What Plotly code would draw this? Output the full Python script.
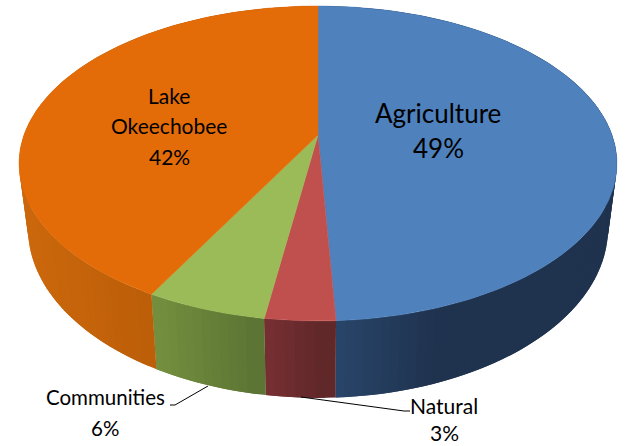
import math
import plotly.graph_objects as go

# Data
categories = ["Agriculture", "Natural", "Communities", "Lake Okeechobee"]
shares = [49.2, 3.2, 5.5, 42.1]
percent_labels = ["49%", "3%", "6%", "42%"]
label_lines = [["Agriculture"], ["Natural"], ["Communities"], ["Lake", "Okeechobee"]]

# Styles
top_colors = ["#4f81bd", "#c0504d", "#9bbb59", "#e36c09"]
side_colors = [
    ("#1f324e", "#2b4a70"),   # colour at right end, at left end
    ("#5f2729", "#7b3034"),
    ("#5c7434", "#76923f"),
    ("#a95305", "#cc680c"),
]

# Projected pie geometry (screen pixels on hidden axes)
CX, CY = 318.0, 135.0
K, A, B, D, SHRINK = 0.181, 152.3, 294.0, 63.0, 0.03


def project(theta, depth=0.0):
    s, c = math.sin(theta), math.cos(theta)
    w = 1 + K * c
    return CX + (1 - SHRINK * depth) * B * s / w, CY - A * c / w + depth * D / w


def hexrgb(h):
    return [int(h[i:i + 2], 16) for i in (1, 3, 5)]


def mix(c0, c1, t):
    a, b = hexrgb(c0), hexrgb(c1)
    return "rgb(%d,%d,%d)" % tuple(round(a[i] + (b[i] - a[i]) * t) for i in range(3))


fig = go.Figure()
total = sum(shares)
spans, start = [], 0.0
for v in shares:
    spans.append((start, start + v / total * 2 * math.pi))
    start = spans[-1][1]

# Side walls, painted so that each band overlaps its neighbour and leaves no seam
STEP = math.radians(1.5)
bands = []
for i, (a0, a1) in enumerate(spans):
    n = max(4, int((a1 - a0) / STEP))
    xs = [project(a0 + (a1 - a0) * j / n)[0] for j in range(n + 1)]
    lo, hi = min(xs), max(xs)
    for j in range(n):
        t0 = a0 + (a1 - a0) * j / n
        t1 = a0 + (a1 - a0) * (j + 1) / n
        tm = (t0 + t1) / 2
        x = project(tm)[0]
        if i == 0:
            f = max(0.0, 1 - (x - lo) / 130)
        else:
            f = (hi - x) / max(hi - lo, 1)
        bands.append((i, j, min(a1, t1 + (t1 - t0)), t0, mix(side_colors[i][0], side_colors[i][1], f)))

bands.sort(key=lambda b: (b[0], -b[1]))
for i, _, t1, t0, color in bands:
    ts = [t0, (t0 + t1) / 2, t1]
    p = [project(t) for t in ts] + [project(t, 1) for t in reversed(ts)] + [project(t0)]
    fig.add_trace(go.Scatter(x=[q[0] for q in p], y=[q[1] for q in p], mode="lines",
                             fill="toself", fillcolor=color,
                             line=dict(color=color, width=0), hoverinfo="skip"))

# Top faces
for i, (a0, a1) in enumerate(spans):
    n = max(8, int((a1 - a0) / math.radians(1)))
    pts = [(CX, CY)] + [project(a0 + (a1 - a0) * j / n) for j in range(n + 1)] + [(CX, CY)]
    fig.add_trace(go.Scatter(x=[q[0] for q in pts], y=[q[1] for q in pts], mode="lines",
                             fill="toself", fillcolor=top_colors[i],
                             line=dict(color=top_colors[i], width=0.5),
                             name=categories[i], hoverinfo="skip"))

# Leader lines
for lx, ly in [([208, 175, 170], [386, 405, 405]), ([301, 404, 410], [397, 411, 411])]:
    fig.add_trace(go.Scatter(x=lx, y=ly, mode="lines", line=dict(color="#000000", width=1),
                             hoverinfo="skip"))

# Labels: (index, centre x, first line centre y, line step, font size)
label_places = [(0, 438, 113, 35, 26), (1, 444, 405, 27, 21),
                (2, 105, 397, 31, 20.5), (3, 169, 95, 30.5, 21)]
for i, x, y, step, size in label_places:
    lines = label_lines[i] + [percent_labels[i]]
    for j, line in enumerate(lines):
        fig.add_annotation(x=x, y=y + j * step, text=line, showarrow=False,
                           font=dict(family="Lato", size=size, color="#000000"),
                           xanchor="center", yanchor="middle")

fig.update_layout(width=625, height=446, margin=dict(l=0, r=0, t=0, b=0),
                  paper_bgcolor="#ffffff", plot_bgcolor="#ffffff", showlegend=False,
                  xaxis=dict(range=[0, 625], visible=False, fixedrange=True),
                  yaxis=dict(range=[446, 0], visible=False, fixedrange=True))
fig.write_html("out.html", post_script="document.body.style.margin='0';",
               config={"displayModeBar": False})
